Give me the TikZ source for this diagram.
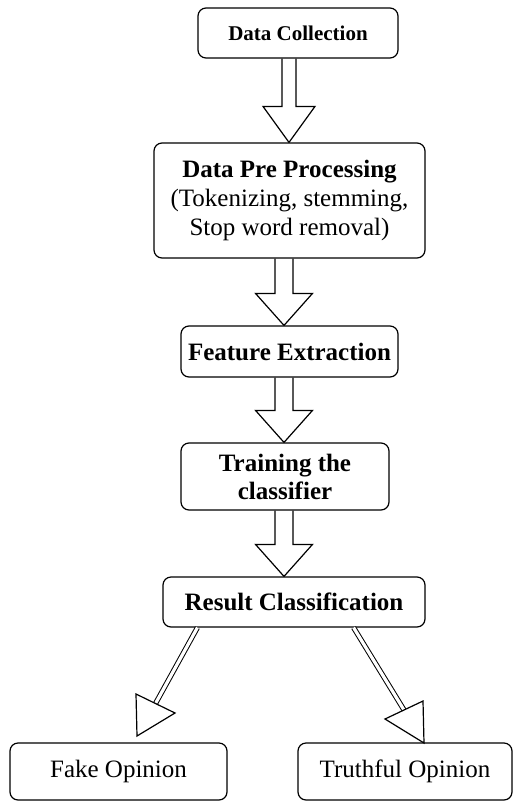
\documentclass[tikz,border=0pt]{standalone}
\usepackage{fontspec}
\setmainfont{Liberation Serif}
\usetikzlibrary{calc,backgrounds}
\tikzset{
  box/.style={draw, line width=1.2pt, rounded corners=8pt, fill=white, inner sep=0pt, align=center, font=\fontsize{25}{29}\selectfont},
  arrowshape/.style={draw, line width=1.2pt, fill=white, line join=miter},
  dshaft/.style={draw, line width=1pt, double=white, double distance=3.2pt},
  dhead/.style={draw, line width=1.2pt, fill=white, line join=miter},
}
\newcommand{\bigarrow}[6]{% from, to, x, shaft half, head half, head length
  \draw[arrowshape] let \p1=(#1.south), \p2=(#2.north) in
    (#3pt-#4pt,\y1) -- (#3pt-#4pt,\y2+#6pt) -- (#3pt-#5pt,\y2+#6pt) -- (#3pt,\y2)
    -- (#3pt+#5pt,\y2+#6pt) -- (#3pt+#4pt,\y2+#6pt) -- (#3pt+#4pt,\y1);}
\begin{document}
\begin{tikzpicture}[x=1pt,y=1pt]
\useasboundingbox (0,0) rectangle (513,-801);
\node[box, minimum width=200pt, minimum height=50pt, font=\fontsize{21}{25}\selectfont\bfseries] (dc) at (298,-33) {Data Collection};
\node[box, minimum width=271pt, minimum height=115pt] (pre) at (289.5,-200.5) {\textbf{Data Pre Processing}\\(Tokenizing, stemming,\\Stop word removal)};
\node[box, minimum width=217pt, minimum height=51pt, font=\fontsize{25}{29}\selectfont\bfseries] (fe) at (289.5,-351.5) {Feature Extraction};
\node[box, minimum width=208pt, minimum height=67pt, font=\fontsize{25}{28}\selectfont\bfseries] (tr) at (285,-476.5) {Training the\\classifier};
\node[box, minimum width=262pt, minimum height=50pt, font=\fontsize{25}{29}\selectfont\bfseries] (rc) at (294,-602) {Result Classification};
\node[box, minimum width=217pt, minimum height=57pt] (fake) at (118.5,-771.5) {Fake Opinion};
\node[box, minimum width=214pt, minimum height=57pt] (truth) at (405,-771.5) {Truthful Opinion};
\begin{scope}[on background layer]
\bigarrow{dc}{pre}{289}{7}{26}{36}
\bigarrow{pre}{fe}{284}{9}{28.5}{32}
\bigarrow{fe}{tr}{284}{9}{28.5}{32}
\bigarrow{tr}{rc}{284}{9}{28.5}{32}
\end{scope}
% diagonal arrows
\coordinate (lb) at (155.5,-703.5);
\coordinate (rb) at (404,-710);
\draw[dshaft] ($(rc.south west)+(35,0)$) -- (lb);
\draw[dhead] (136,-694) -- (175,-713) -- (137,-736) -- cycle;
\draw[dshaft] ($(rc.south east)+(-72,0)$) -- (rb);
\draw[dhead] (423,-701) -- (385,-719) -- (424,-743) -- cycle;
\end{tikzpicture}
\end{document}
